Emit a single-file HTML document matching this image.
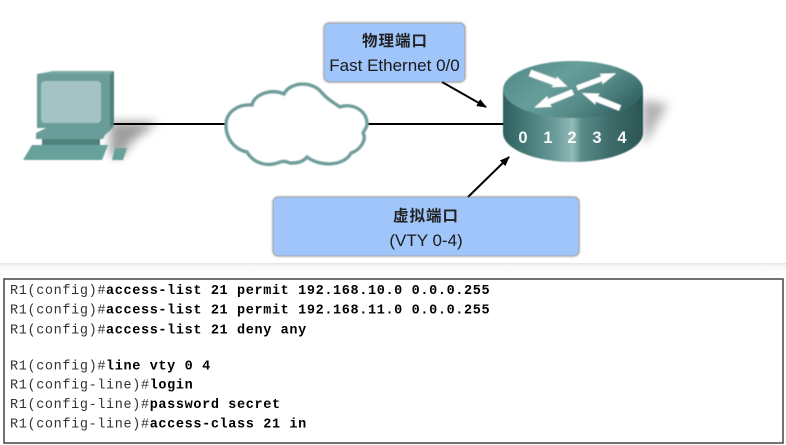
<!DOCTYPE html>
<html>
<head>
<meta charset="utf-8">
<style>
html,body{margin:0;padding:0;background:#fff;width:786px;height:445px;overflow:hidden}
svg{display:block}
</style>
</head>
<body>
<svg width="786" height="445" viewBox="0 0 786 445" xmlns="http://www.w3.org/2000/svg">
<defs>
<filter id="b3" x="-50%" y="-50%" width="200%" height="200%"><feGaussianBlur stdDeviation="5"/></filter>
<filter id="b1" x="-10%" y="-10%" width="120%" height="120%"><feGaussianBlur stdDeviation="0.5"/></filter>
<filter id="bs" x="-10%" y="-15%" width="120%" height="130%"><feGaussianBlur stdDeviation="1.2"/></filter>
<filter id="bt" x="-2%" y="-2%" width="104%" height="104%"><feGaussianBlur stdDeviation="0.3"/></filter>
<linearGradient id="rtop" x1="0" y1="0" x2="1" y2="0.5">
<stop offset="0" stop-color="#4f8683"/><stop offset="0.45" stop-color="#669e9b"/><stop offset="0.75" stop-color="#558a87"/><stop offset="1" stop-color="#38696a"/>
</linearGradient>
<linearGradient id="rside" x1="0" y1="0" x2="1" y2="0">
<stop offset="0" stop-color="#2f5f5e"/><stop offset="0.2" stop-color="#4b7f7e"/><stop offset="0.38" stop-color="#6d9d9b"/><stop offset="0.5" stop-color="#93bab7"/><stop offset="0.56" stop-color="#5b8c8a"/><stop offset="0.75" stop-color="#3f6e6c"/><stop offset="1" stop-color="#2b5553"/>
</linearGradient>
<linearGradient id="sep" x1="0" y1="0" x2="0" y2="1">
<stop offset="0" stop-color="#e4e4e4"/><stop offset="0.2" stop-color="#f8f8f8"/><stop offset="1" stop-color="#fff"/>
</linearGradient>
<marker id="ah" markerWidth="10" markerHeight="8" refX="9" refY="4" orient="auto" markerUnits="userSpaceOnUse"><path d="M0,0 L10,4 L0,8 z" fill="#000"/></marker>
</defs>

<rect x="0" y="263" width="786" height="16" fill="url(#sep)"/>

<!-- shadows -->
<polygon points="110,122 158,122 132,142 122,156 110,156" fill="#777" opacity=".7" filter="url(#b3)"/>
<polygon points="642,100 668,104 644,146" fill="#888" opacity=".65" filter="url(#b3)"/>

<!-- link -->
<line x1="110" y1="124" x2="504" y2="124" stroke="#000" stroke-width="2"/>

<!-- computer -->
<g filter="url(#b1)">
<polygon points="37,74 53,71 114,71 110,74" fill="#7aa8a5"/>
<polygon points="110,74 114,71 114,125 110,128" fill="#4d807d"/>
<rect x="37" y="74" width="73" height="54" fill="#6a9c99"/>
<rect x="41" y="81" width="60" height="42" rx="4" fill="#a3c4c2"/>
<polygon points="36,133 46,128 110,128 114,125 113,128 105,135 103,139 36,139" fill="#6a9c99"/>
<rect x="42" y="139" width="58" height="6" fill="#4f827f"/>
<polygon points="23,160 32,145 108,145 102,160" fill="#68a09c"/>
<polygon points="112,160 115,148 127,148 123,160" fill="#68a09c"/>
</g>

<!-- cloud -->
<path d="M226,125 C226,112 238,104 252,105 C254,95 270,88 284,94 C290,82 312,80 322,93 C328,100 334,103 340,107 C352,103 367,110 367,124 C367,128 364,130 363,133 C367,140 360,150 351,153 C345,165 322,168 307,157 C302,163 295,163 290,163 C285,161 283,161 280,162 C268,167 254,164 247,152 C236,150 226,140 226,125 Z" fill="#fff" stroke="#6f9f9c" stroke-width="3.500" filter="url(#b1)"/>

<!-- router -->
<g filter="url(#b1)">
<path d="M503,90 L503,133 A70,29 0 0 0 643,133 L643,90 Z" fill="url(#rside)"/>
<ellipse cx="573" cy="89.500" rx="70" ry="28.500" fill="url(#rtop)"/>
<g fill="#fff">
<polygon transform="translate(530,73) rotate(20)" points="0,-3.500 27,-3.500 26,-6 40,0 25,6 26,3.500 0,3.500"/>
<polygon transform="translate(577,88) rotate(-20.500)" points="0,-2.500 27,-2.500 26,-5.500 42,0 25,5.500 26,2.500 0,2.500"/>
<polygon transform="translate(573,92) rotate(158)" points="0,-3 26,-3 25,-6 42,0 25,6 26,3 0,3"/>
<polygon transform="translate(620,108) rotate(201.500)" points="0,-3 25,-3 24,-6 41,0 24,6 25,3 0,3"/>
</g>
</g>
<g font-family="'Liberation Sans',sans-serif" font-weight="700" font-size="16.500" fill="#fff" text-anchor="middle" opacity=".95">
<text x="523" y="143">0</text><text x="548" y="143">1</text><text x="572" y="143">2</text><text x="597" y="143">3</text><text x="622" y="143">4</text>
</g>

<!-- arrows -->
<line x1="442" y1="82" x2="486" y2="107" stroke="#000" stroke-width="2" marker-end="url(#ah)"/>
<line x1="468" y1="197" x2="509" y2="157" stroke="#000" stroke-width="2" marker-end="url(#ah)"/>

<!-- label boxes -->
<rect x="324" y="23" width="141" height="59" rx="5" fill="#444" opacity=".85" filter="url(#bs)"/>
<rect x="324.500" y="23.500" width="140" height="58" rx="5" fill="#9fc5fb"/>
<text x="395" y="46" font-family="'Liberation Sans','Noto Sans CJK SC',sans-serif" font-size="15.500" letter-spacing="1" font-weight="700" fill="#222" text-anchor="middle">物理端口</text>
<text x="394.500" y="71" font-family="'Liberation Sans',sans-serif" font-size="17" fill="#1a1a1a" text-anchor="middle">Fast Ethernet 0/0</text>

<rect x="273" y="197" width="306" height="59" rx="5" fill="#444" opacity=".85" filter="url(#bs)"/>
<rect x="273.500" y="197.500" width="305" height="58" rx="5" fill="#9fc5fb"/>
<text x="426" y="221" font-family="'Liberation Sans','Noto Sans CJK SC',sans-serif" font-size="15.500" letter-spacing="1" font-weight="700" fill="#222" text-anchor="middle">虚拟端口</text>
<text x="426" y="246" font-family="'Liberation Sans',sans-serif" font-size="17" fill="#1a1a1a" text-anchor="middle">(VTY 0-4)</text>

<!-- config -->
<rect x="4" y="279" width="779" height="164" fill="#fff" stroke="#444" stroke-width="1.500"/>
<g font-family="'Liberation Mono',monospace" font-size="13.500" letter-spacing="0.630" fill="#333" xml:space="preserve" filter="url(#bt)">
<text x="10" y="294">R1(config)#<tspan font-weight="700" fill="#000">access-list 21 permit 192.168.10.0 0.0.0.255</tspan></text>
<text x="10" y="313.500">R1(config)#<tspan font-weight="700" fill="#000">access-list 21 permit 192.168.11.0 0.0.0.255</tspan></text>
<text x="10" y="333.500">R1(config)#<tspan font-weight="700" fill="#000">access-list 21 deny any</tspan></text>
<text x="10" y="369.500">R1(config)#<tspan font-weight="700" fill="#000">line vty 0 4</tspan></text>
<text x="10" y="388.500">R1(config-line)#<tspan font-weight="700" fill="#000">login</tspan></text>
<text x="10" y="408">R1(config-line)#<tspan font-weight="700" fill="#000">password secret</tspan></text>
<text x="10" y="427.500">R1(config-line)#<tspan font-weight="700" fill="#000">access-class 21 in</tspan></text>
</g>
</svg>
</body>
</html>
